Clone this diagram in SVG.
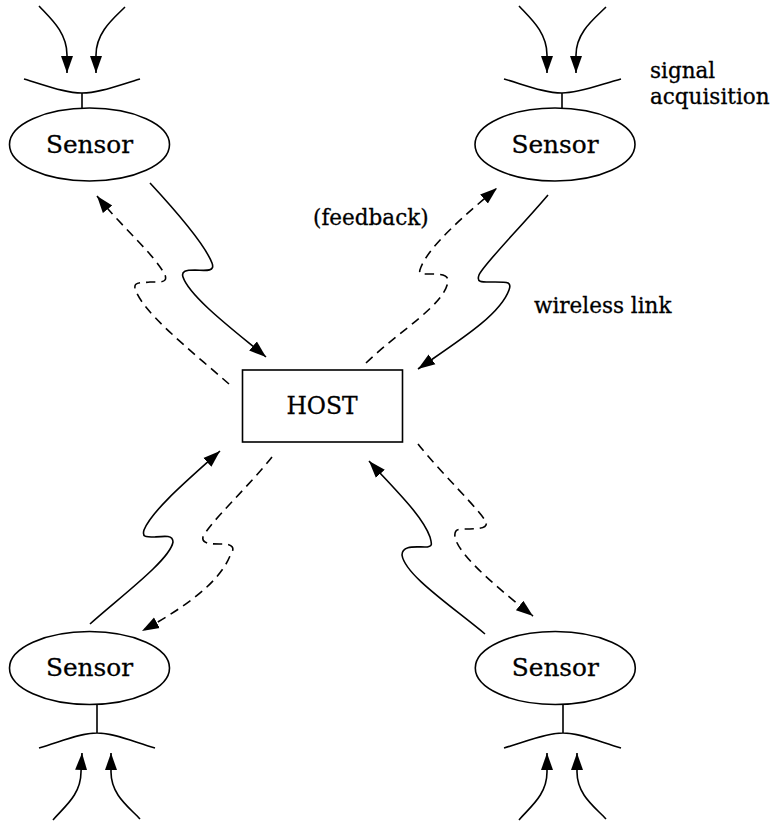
<svg xmlns="http://www.w3.org/2000/svg" width="774" height="822" viewBox="0 0 774 822">
<style>
.n{fill:none;stroke:#000;stroke-width:1.6}
.d{stroke-dasharray:9 6}
.t{font-family:"DejaVu Serif",serif;font-size:21.5px;fill:#000;stroke:#000;stroke-width:.3}
.s{font-size:24.8px}
.h{font-size:23.4px}
.c{text-anchor:middle}
</style>
<defs>
<marker id="a" markerUnits="userSpaceOnUse" markerWidth="19" markerHeight="15" refX="17" refY="6.5" orient="auto"><path d="M0,0.5L17,6.5L0,12.5Z" fill="#000"/></marker>
</defs>
<rect width="774" height="822" fill="#fff"/>
<g id="connectors">
<path class="n" marker-end="url(#a)" d="M150,183C175,210 205,245 212,263C215,271 208,271 195,270C186,270 181,271 183,277C190,298 240,335 266,357"/>
<path class="n d" marker-end="url(#a)" d="M229,384C190,350 140,310 135,288C134,282 140,283 150,282C160,282 168,283 165,275C155,255 120,225 97,196"/>
<path class="n" marker-end="url(#a)" d="M548,195C520,228 483,265 479,275C476,283 482,282 495,282C508,282 512,282 509,290C500,315 460,340 418,369"/>
<path class="n d" marker-end="url(#a)" d="M366,363C400,330 445,305 448,281C448,274 440,274 428,274C420,274 418,274 421,267C430,245 465,215 497,188"/>
<path class="n" marker-end="url(#a)" d="M90,624C120,597 170,560 173,542C173,535 165,536 155,537C145,537 142,537 144,530C152,510 190,478 220,451"/>
<path class="n d" marker-end="url(#a)" d="M272,457C250,485 210,522 203,537C201,545 215,544 225,544C235,545 234,550 230,556C218,585 180,610 142,631"/>
<path class="n" marker-end="url(#a)" d="M485,634C450,605 405,575 402,555C402,545 415,547 425,547C433,547 432,544 430,537C422,515 395,490 369,461"/>
<path class="n d" marker-end="url(#a)" d="M418,444C440,472 480,510 486,522C488,528 480,529 465,529C457,529 454,530 455,537C458,555 500,590 533,616"/>
<path class="n" marker-end="url(#a)" d="M39,6C50,18 67,32 67,55L67,73"/>
<path class="n" marker-end="url(#a)" d="M125,7C114,18 96,32 96,55L96,73"/>
<path class="n" marker-end="url(#a)" d="M519,6C530,18 547,32 547,55L547,73"/>
<path class="n" marker-end="url(#a)" d="M606,7C595,18 576,32 576,55L576,73"/>
<path class="n" marker-end="url(#a)" d="M53,820C64,807 81,795 81,772L82,753"/>
<path class="n" marker-end="url(#a)" d="M140,819C129,807 111,795 111,772L111,753"/>
<path class="n" marker-end="url(#a)" d="M519,820C530,807 547,795 547,772L547,753"/>
<path class="n" marker-end="url(#a)" d="M606,819C595,807 577,795 577,772L577,753"/>
</g>
<g id="sensor-top-left">
<ellipse class="n" cx="89.5" cy="144.5" rx="80" ry="36.5"/>
<path class="n" d="M24,79C45,85 65,93 82,93C99,93 119,85 140,79M82,93V108"/>
<text class="t s c" x="89.5" y="153">Sensor</text>
</g>
<g id="sensor-top-right">
<ellipse class="n" cx="555" cy="144.5" rx="80" ry="36.5"/>
<path class="n" d="M504,79C525,85 545,93 562,93C579,93 599,85 621,79M562,93V108"/>
<text class="t s c" x="555" y="153">Sensor</text>
</g>
<g id="sensor-bottom-left">
<ellipse class="n" cx="89.5" cy="668" rx="80" ry="36.5"/>
<path class="n" d="M39,748C60,742 80,733 97,733C114,733 134,742 155,748M97,704V733"/>
<text class="t s c" x="89.5" y="676">Sensor</text>
</g>
<g id="sensor-bottom-right">
<ellipse class="n" cx="555.3" cy="668" rx="80" ry="36.5"/>
<path class="n" d="M504,748C525,742 546,733 563,733C580,733 600,742 621,748M563,704V733"/>
<text class="t s c" x="555.3" y="676">Sensor</text>
</g>
<g id="host">
<rect class="n" x="242.5" y="370" width="160" height="72"/>
<text class="t h c" x="322" y="414">HOST</text>
</g>
<g id="labels">
<text class="t" x="650" y="78">signal</text>
<text class="t" x="650" y="104">acquisition</text>
<text class="t" x="313" y="225">(feedback)</text>
<text class="t" x="534" y="313">wireless link</text>
</g>
</svg>
